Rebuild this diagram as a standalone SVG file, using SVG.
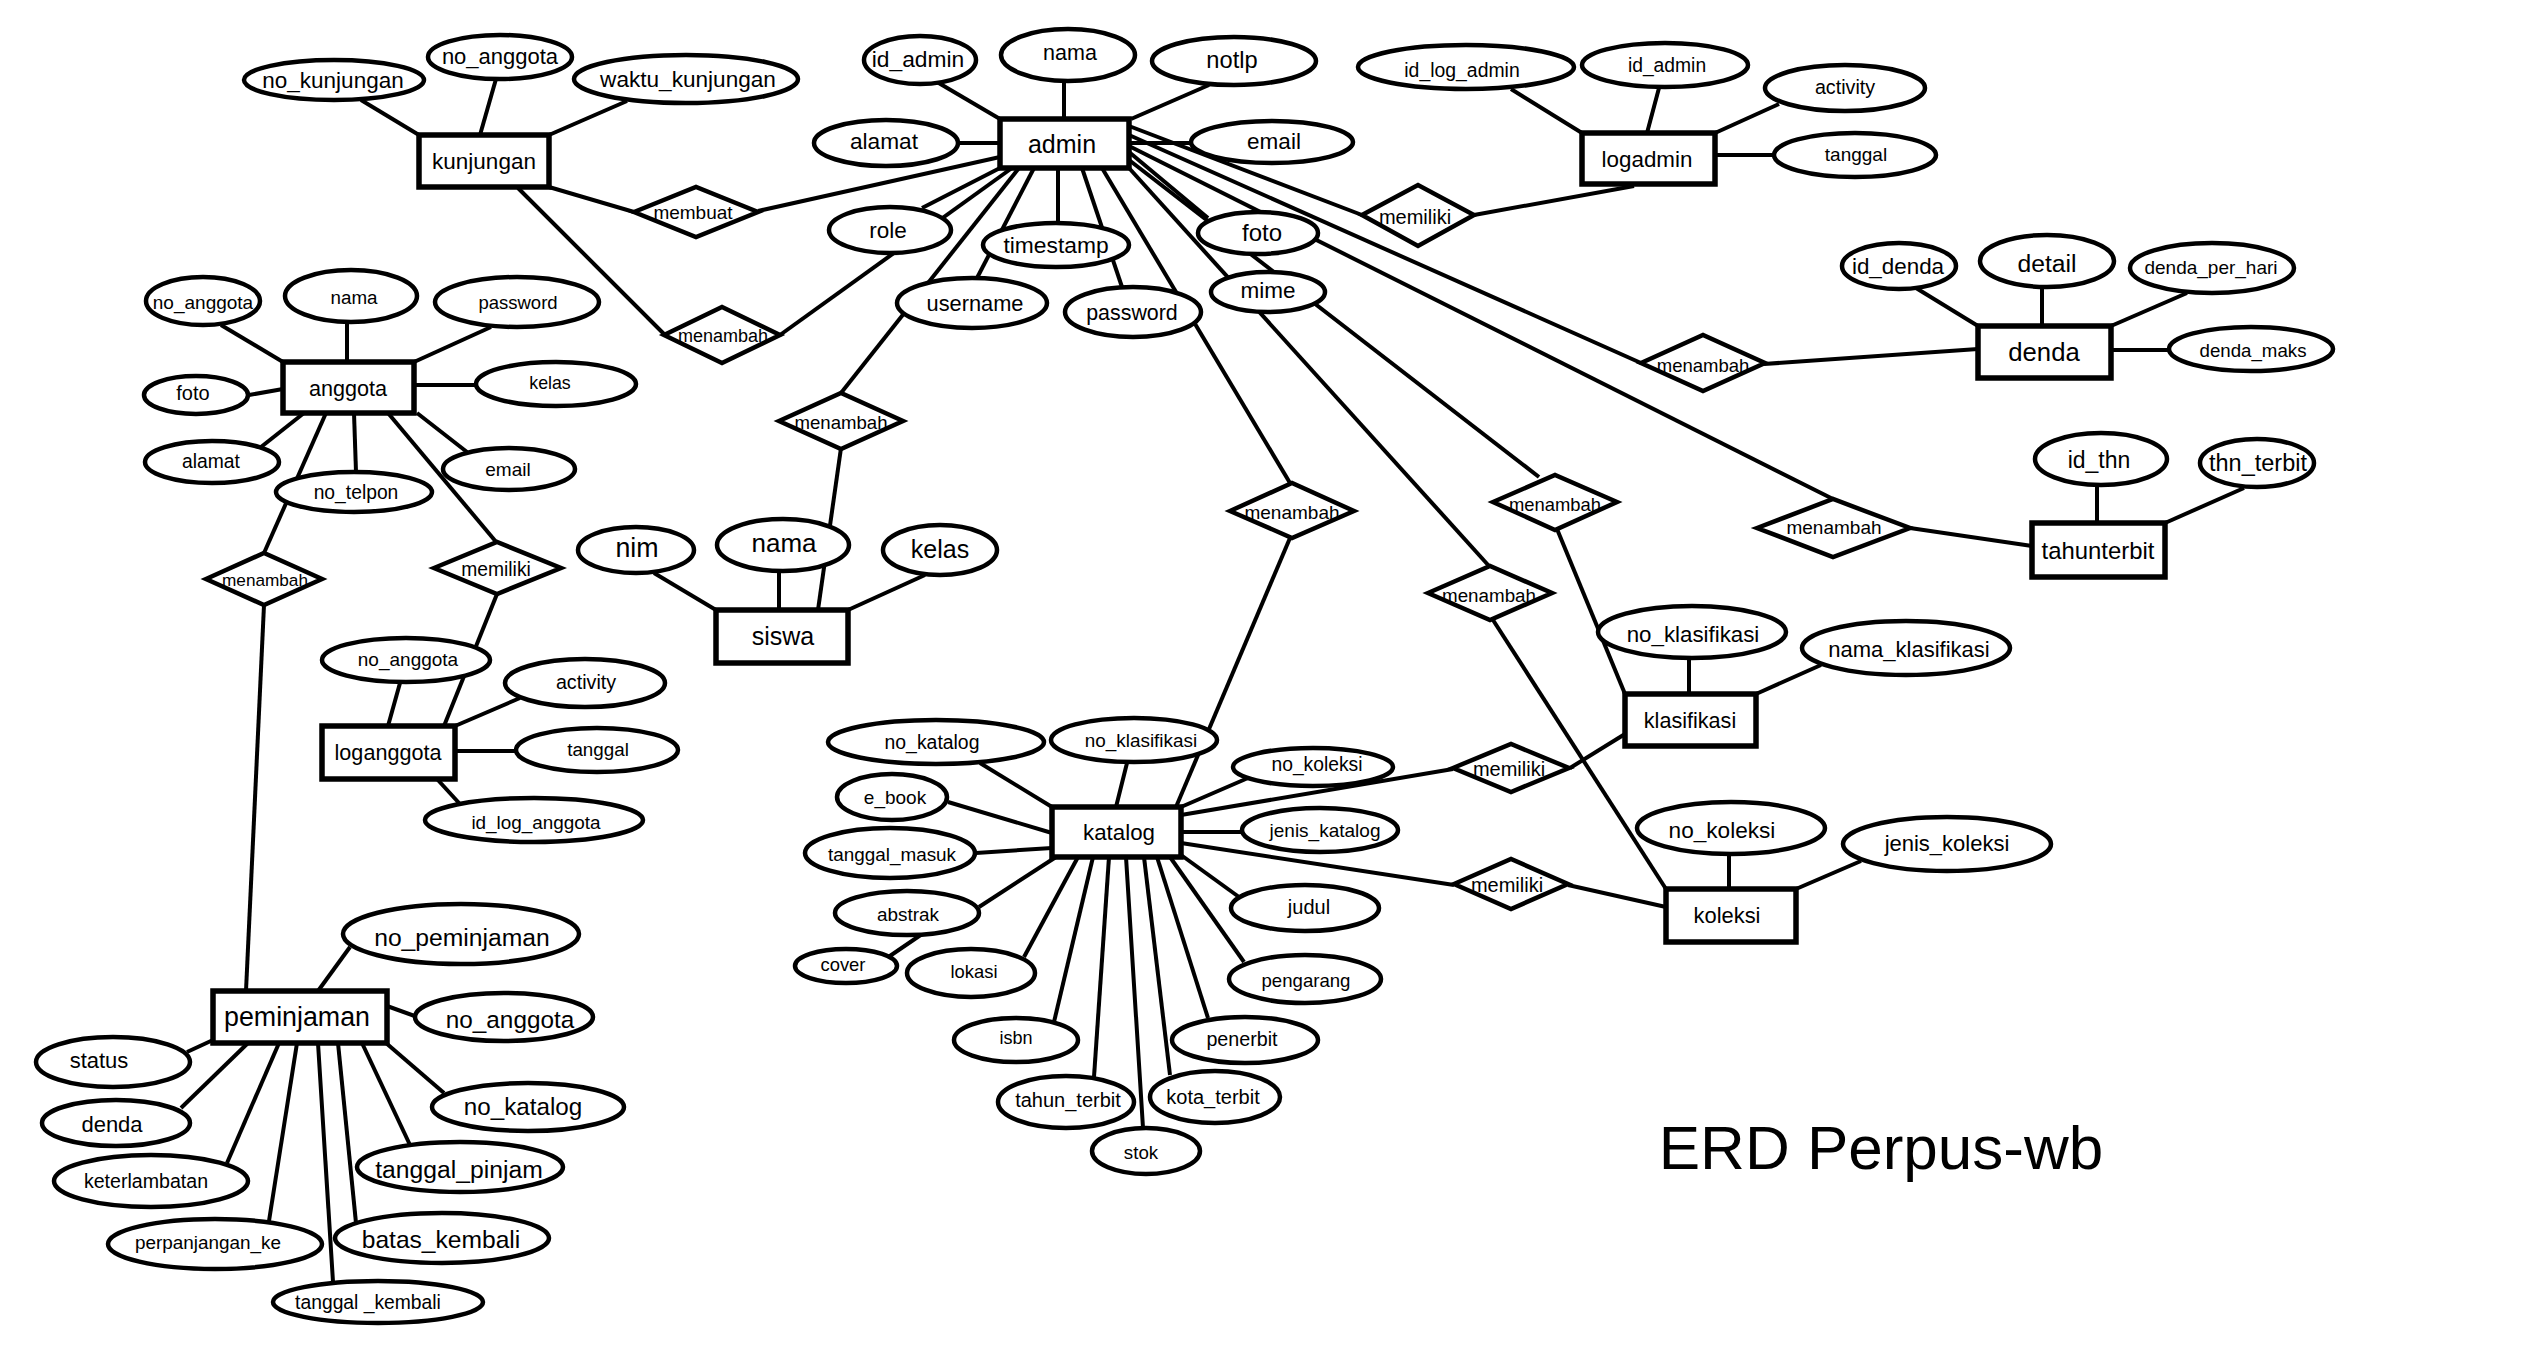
<svg xmlns="http://www.w3.org/2000/svg" width="2540" height="1356" viewBox="0 0 2540 1356">
<style>
.bg{fill:#fff}
.e{fill:#fff;stroke:#000;stroke-width:5.5}
.a{fill:#fff;stroke:#000;stroke-width:4.5}
.r{fill:#fff;stroke:#000;stroke-width:4.5;stroke-linejoin:miter}
#connectors line{stroke:#000;stroke-width:4;stroke-linecap:butt}
text{font-family:"Liberation Sans",Arial,sans-serif;fill:#000;text-anchor:middle;dominant-baseline:central}
</style>
<rect class="bg" x="0" y="0" width="2540" height="1356"/>
<g id="connectors">
<line x1="361" y1="100" x2="419" y2="135"/>
<line x1="496" y1="79" x2="480" y2="135"/>
<line x1="627" y1="101" x2="549" y2="135"/>
<line x1="549" y1="187" x2="634" y2="212"/>
<line x1="518" y1="188" x2="665" y2="335"/>
<line x1="758" y1="211" x2="1000" y2="157"/>
<line x1="780" y1="335" x2="1012" y2="168"/>
<line x1="937" y1="82" x2="1000" y2="119"/>
<line x1="1064" y1="80" x2="1064" y2="119"/>
<line x1="1209" y1="85" x2="1131" y2="119"/>
<line x1="957" y1="143" x2="1000" y2="143"/>
<line x1="1129" y1="143" x2="1191" y2="143"/>
<line x1="1000" y1="168" x2="922" y2="208"/>
<line x1="1019" y1="168" x2="841" y2="393"/>
<line x1="1034" y1="168" x2="977" y2="278"/>
<line x1="1058" y1="168" x2="1058" y2="223"/>
<line x1="1082" y1="168" x2="1122" y2="287"/>
<line x1="1102" y1="168" x2="1290" y2="483"/>
<line x1="1129" y1="152" x2="1208" y2="218"/>
<line x1="1129" y1="160" x2="1539" y2="477"/>
<line x1="1129" y1="168" x2="1489" y2="566"/>
<line x1="1129" y1="146" x2="1833" y2="499"/>
<line x1="1129" y1="135" x2="1641" y2="363"/>
<line x1="1129" y1="126" x2="1362" y2="215"/>
<line x1="1474" y1="215" x2="1634" y2="186"/>
<line x1="1511" y1="89" x2="1582" y2="133"/>
<line x1="1659" y1="88" x2="1647" y2="133"/>
<line x1="1779" y1="104" x2="1715" y2="133"/>
<line x1="1715" y1="155" x2="1774" y2="155"/>
<line x1="1764" y1="364" x2="1978" y2="349"/>
<line x1="1916" y1="288" x2="1978" y2="326"/>
<line x1="2042" y1="287" x2="2042" y2="326"/>
<line x1="2187" y1="293" x2="2111" y2="326"/>
<line x1="2111" y1="350" x2="2170" y2="350"/>
<line x1="1910" y1="528" x2="2032" y2="546"/>
<line x1="2097" y1="485" x2="2097" y2="523"/>
<line x1="2244" y1="488" x2="2165" y2="523"/>
<line x1="221" y1="325" x2="283" y2="362"/>
<line x1="347" y1="322" x2="347" y2="362"/>
<line x1="491" y1="327" x2="414" y2="362"/>
<line x1="249" y1="395" x2="283" y2="389"/>
<line x1="414" y1="385" x2="476" y2="385"/>
<line x1="304" y1="413" x2="261" y2="447"/>
<line x1="326" y1="413" x2="264" y2="553"/>
<line x1="354" y1="413" x2="356" y2="472"/>
<line x1="388" y1="413" x2="497" y2="543"/>
<line x1="417" y1="413" x2="467" y2="452"/>
<line x1="264" y1="605" x2="246" y2="991"/>
<line x1="497" y1="594" x2="444" y2="726"/>
<line x1="400" y1="683" x2="388" y2="726"/>
<line x1="520" y1="698" x2="455" y2="726"/>
<line x1="455" y1="751" x2="516" y2="751"/>
<line x1="437" y1="779" x2="459" y2="803"/>
<line x1="841" y1="448" x2="818" y2="610"/>
<line x1="654" y1="573" x2="716" y2="610"/>
<line x1="779" y1="572" x2="779" y2="610"/>
<line x1="925" y1="575" x2="848" y2="610"/>
<line x1="1290" y1="538" x2="1176" y2="807"/>
<line x1="980" y1="763" x2="1052" y2="807"/>
<line x1="1127" y1="763" x2="1116" y2="807"/>
<line x1="1248" y1="778" x2="1181" y2="807"/>
<line x1="948" y1="802" x2="1052" y2="833"/>
<line x1="976" y1="853" x2="1052" y2="848"/>
<line x1="1181" y1="832" x2="1243" y2="832"/>
<line x1="1181" y1="815" x2="1453" y2="769"/>
<line x1="1181" y1="843" x2="1454" y2="885"/>
<line x1="979" y1="907" x2="1056" y2="857"/>
<line x1="928" y1="930" x2="884" y2="960"/>
<line x1="1024" y1="957" x2="1078" y2="857"/>
<line x1="1093" y1="857" x2="1054" y2="1022"/>
<line x1="1109" y1="857" x2="1094" y2="1077"/>
<line x1="1126" y1="857" x2="1143" y2="1128"/>
<line x1="1144" y1="857" x2="1170" y2="1075"/>
<line x1="1157" y1="857" x2="1208" y2="1018"/>
<line x1="1170" y1="857" x2="1244" y2="962"/>
<line x1="1181" y1="855" x2="1239" y2="897"/>
<line x1="318" y1="991" x2="350" y2="947"/>
<line x1="387" y1="1006" x2="420" y2="1018"/>
<line x1="386" y1="1043" x2="444" y2="1093"/>
<line x1="362" y1="1043" x2="410" y2="1145"/>
<line x1="338" y1="1043" x2="356" y2="1223"/>
<line x1="318" y1="1043" x2="333" y2="1282"/>
<line x1="297" y1="1043" x2="269" y2="1221"/>
<line x1="279" y1="1043" x2="227" y2="1163"/>
<line x1="248" y1="1043" x2="181" y2="1108"/>
<line x1="213" y1="1040" x2="187" y2="1052"/>
<line x1="1570" y1="768" x2="1625" y2="734"/>
<line x1="1557" y1="529" x2="1625" y2="694"/>
<line x1="1689" y1="658" x2="1689" y2="694"/>
<line x1="1821" y1="665" x2="1756" y2="694"/>
<line x1="1568" y1="885" x2="1666" y2="907"/>
<line x1="1493" y1="620" x2="1666" y2="889"/>
<line x1="1729" y1="855" x2="1729" y2="889"/>
<line x1="1861" y1="861" x2="1796" y2="889"/>
</g>

<!-- entities -->
<g id="kunjungan"><rect class="e" x="419" y="135" width="130" height="52"/><text x="484" y="161" font-size="22.5">kunjungan</text></g>
<g id="admin"><rect class="e" x="1000" y="119" width="129" height="49"/><text x="1062" y="144" font-size="25">admin</text></g>
<g id="logadmin"><rect class="e" x="1582" y="133" width="133" height="51"/><text x="1647" y="159" font-size="22.4">logadmin</text></g>
<g id="anggota"><rect class="e" x="283" y="362" width="131" height="51"/><text x="348" y="388" font-size="21.6">anggota</text></g>
<g id="denda"><rect class="e" x="1978" y="326" width="133" height="52"/><text x="2044" y="352" font-size="25.7">denda</text></g>
<g id="tahunterbit"><rect class="e" x="2032" y="523" width="133" height="54"/><text x="2098" y="550" font-size="23.9">tahunterbit</text></g>
<g id="siswa"><rect class="e" x="716" y="610" width="132" height="53"/><text x="783" y="636" font-size="25">siswa</text></g>
<g id="loganggota"><rect class="e" x="322" y="726" width="133" height="53"/><text x="388" y="752" font-size="21.6">loganggota</text></g>
<g id="klasifikasi"><rect class="e" x="1625" y="694" width="131" height="52"/><text x="1690" y="720" font-size="21.6">klasifikasi</text></g>
<g id="katalog"><rect class="e" x="1052" y="807" width="129" height="50"/><text x="1119" y="832" font-size="22.3">katalog</text></g>
<g id="koleksi"><rect class="e" x="1666" y="889" width="130" height="53"/><text x="1727" y="915" font-size="21.9">koleksi</text></g>
<g id="peminjaman"><rect class="e" x="213" y="991" width="174" height="52"/><text x="297" y="1017" font-size="26.8">peminjaman</text></g>

<!-- relationships -->
<g id="rel-membuat"><polygon class="r" points="634,212 696,187 758,212 696,237"/><text x="693" y="212" font-size="19">membuat</text></g>
<g id="rel-menambah-kunjungan"><polygon class="r" points="664,335 722,307 780,335 722,363"/><text x="723" y="336" font-size="18">menambah</text></g>
<g id="rel-menambah-siswa"><polygon class="r" points="779,421 841,393 903,421 841,449"/><text x="841" y="422" font-size="18.6">menambah</text></g>
<g id="rel-memiliki-logadmin"><polygon class="r" points="1362,215 1418,185 1474,215 1418,246"/><text x="1415" y="217" font-size="20">memiliki</text></g>
<g id="rel-menambah-denda"><polygon class="r" points="1641,363 1703,335 1765,363 1703,391"/><text x="1703" y="365" font-size="18.5">menambah</text></g>
<g id="rel-menambah-tahunterbit"><polygon class="r" points="1757,528 1833,499 1910,528 1833,557"/><text x="1834" y="527" font-size="19">menambah</text></g>
<g id="rel-menambah-klasifikasi"><polygon class="r" points="1493,502 1555,475 1617,502 1555,530"/><text x="1555" y="504" font-size="18.4">menambah</text></g>
<g id="rel-menambah-koleksi"><polygon class="r" points="1428,593 1490,566 1552,593 1490,620"/><text x="1489" y="595" font-size="18.8">menambah</text></g>
<g id="rel-menambah-katalog"><polygon class="r" points="1230,511 1292,483 1354,511 1292,538"/><text x="1292" y="512" font-size="19">menambah</text></g>
<g id="rel-memiliki-klasifikasi"><polygon class="r" points="1453,768 1511,744 1569,768 1511,792"/><text x="1509" y="769" font-size="20">memiliki</text></g>
<g id="rel-memiliki-koleksi"><polygon class="r" points="1454,884 1511,859 1568,884 1511,909"/><text x="1507" y="885" font-size="20">memiliki</text></g>
<g id="rel-menambah-peminjaman"><polygon class="r" points="206,579 264,553 322,579 264,605"/><text x="265" y="580" font-size="17.2">menambah</text></g>
<g id="rel-memiliki-loganggota"><polygon class="r" points="434,568 497,542 561,568 497,594"/><text x="496" y="569" font-size="19.3">memiliki</text></g>

<!-- attributes: kunjungan -->
<g id="kunjungan-no_kunjungan"><ellipse class="a" cx="334" cy="80" rx="90" ry="20"/><text x="333" y="80" font-size="22.5">no_kunjungan</text></g>
<g id="kunjungan-no_anggota"><ellipse class="a" cx="500" cy="57" rx="72" ry="22"/><text x="500" y="56" font-size="22">no_anggota</text></g>
<g id="kunjungan-waktu_kunjungan"><ellipse class="a" cx="686" cy="79" rx="112" ry="24"/><text x="688" y="79" font-size="22.6">waktu_kunjungan</text></g>
<!-- admin -->
<g id="admin-id_admin"><ellipse class="a" cx="920" cy="60" rx="56" ry="24"/><text x="918" y="59" font-size="22.8">id_admin</text></g>
<g id="admin-nama"><ellipse class="a" cx="1068" cy="55" rx="67" ry="26"/><text x="1070" y="53" font-size="21.5">nama</text></g>
<g id="admin-notlp"><ellipse class="a" cx="1234" cy="61" rx="82" ry="24"/><text x="1232" y="60" font-size="23.7">notlp</text></g>
<g id="admin-alamat"><ellipse class="a" cx="886" cy="143" rx="72" ry="23"/><text x="884" y="141" font-size="22.7">alamat</text></g>
<g id="admin-email"><ellipse class="a" cx="1272" cy="142" rx="81" ry="21"/><text x="1274" y="141" font-size="22.5">email</text></g>
<g id="admin-role"><ellipse class="a" cx="890" cy="230" rx="61" ry="23"/><text x="888" y="230" font-size="22.5">role</text></g>
<g id="admin-timestamp"><ellipse class="a" cx="1056" cy="245" rx="73" ry="22"/><text x="1056" y="245" font-size="22.8">timestamp</text></g>
<g id="admin-username"><ellipse class="a" cx="972" cy="303" rx="75" ry="25"/><text x="975" y="303" font-size="21.8">username</text></g>
<g id="admin-password"><ellipse class="a" cx="1133" cy="312" rx="68" ry="25"/><text x="1132" y="313" font-size="21.4">password</text></g>
<g id="admin-foto"><ellipse class="a" cx="1258" cy="233" rx="60" ry="21"/><text x="1262" y="232" font-size="24">foto</text></g>
<g id="admin-mime"><ellipse class="a" cx="1268" cy="292" rx="57" ry="20"/><text x="1268" y="290" font-size="22.5">mime</text></g>
<!-- logadmin -->
<g id="logadmin-id_log_admin"><ellipse class="a" cx="1466" cy="67" rx="108" ry="22"/><text x="1462" y="70" font-size="19.4">id_log_admin</text></g>
<g id="logadmin-id_admin"><ellipse class="a" cx="1665" cy="65" rx="83" ry="22"/><text x="1667" y="65" font-size="19.3">id_admin</text></g>
<g id="logadmin-activity"><ellipse class="a" cx="1845" cy="88" rx="80" ry="23"/><text x="1845" y="87" font-size="19.7">activity</text></g>
<g id="logadmin-tanggal"><ellipse class="a" cx="1855" cy="155" rx="81" ry="22"/><text x="1856" y="154" font-size="19">tanggal</text></g>
<!-- denda -->
<g id="denda-id_denda"><ellipse class="a" cx="1899" cy="266" rx="57" ry="23"/><text x="1898" y="266" font-size="22.4">id_denda</text></g>
<g id="denda-detail"><ellipse class="a" cx="2047" cy="261" rx="67" ry="26"/><text x="2047" y="263" font-size="24.7">detail</text></g>
<g id="denda-denda_per_hari"><ellipse class="a" cx="2212" cy="268" rx="82" ry="25"/><text x="2211" y="267" font-size="19">denda_per_hari</text></g>
<g id="denda-denda_maks"><ellipse class="a" cx="2251" cy="349" rx="82" ry="22"/><text x="2253" y="350" font-size="18.7">denda_maks</text></g>
<!-- tahunterbit -->
<g id="tahunterbit-id_thn"><ellipse class="a" cx="2101" cy="459" rx="66" ry="26"/><text x="2099" y="460" font-size="23">id_thn</text></g>
<g id="tahunterbit-thn_terbit"><ellipse class="a" cx="2257" cy="463" rx="57" ry="24"/><text x="2258" y="463" font-size="23.5">thn_terbit</text></g>
<!-- anggota -->
<g id="anggota-no_anggota"><ellipse class="a" cx="203" cy="301" rx="57" ry="24"/><text x="203" y="302" font-size="19">no_anggota</text></g>
<g id="anggota-nama"><ellipse class="a" cx="351" cy="296" rx="66" ry="26"/><text x="354" y="297" font-size="18.8">nama</text></g>
<g id="anggota-password"><ellipse class="a" cx="517" cy="302" rx="82" ry="25"/><text x="518" y="302" font-size="18.5">password</text></g>
<g id="anggota-foto"><ellipse class="a" cx="196" cy="395" rx="52" ry="19"/><text x="193" y="393" font-size="20">foto</text></g>
<g id="anggota-kelas"><ellipse class="a" cx="556" cy="384" rx="80" ry="22"/><text x="550" y="383" font-size="17.8">kelas</text></g>
<g id="anggota-alamat"><ellipse class="a" cx="212" cy="462" rx="67" ry="21"/><text x="211" y="461" font-size="19.3">alamat</text></g>
<g id="anggota-no_telpon"><ellipse class="a" cx="354" cy="492" rx="78" ry="20"/><text x="356" y="492" font-size="19.3">no_telpon</text></g>
<g id="anggota-email"><ellipse class="a" cx="509" cy="469" rx="66" ry="21"/><text x="508" y="469" font-size="19">email</text></g>
<!-- loganggota -->
<g id="loganggota-no_anggota"><ellipse class="a" cx="406" cy="660" rx="84" ry="22"/><text x="408" y="659" font-size="19">no_anggota</text></g>
<g id="loganggota-activity"><ellipse class="a" cx="585" cy="683" rx="80" ry="24"/><text x="586" y="682" font-size="19.7">activity</text></g>
<g id="loganggota-tanggal"><ellipse class="a" cx="597" cy="750" rx="81" ry="22"/><text x="598" y="749" font-size="18.8">tanggal</text></g>
<g id="loganggota-id_log_anggota"><ellipse class="a" cx="534" cy="820" rx="109" ry="22"/><text x="536" y="822" font-size="18.9">id_log_anggota</text></g>
<!-- siswa -->
<g id="siswa-nim"><ellipse class="a" cx="636" cy="550" rx="58" ry="23"/><text x="637" y="548" font-size="26.8">nim</text></g>
<g id="siswa-nama"><ellipse class="a" cx="783" cy="545" rx="66" ry="26"/><text x="784" y="543" font-size="26">nama</text></g>
<g id="siswa-kelas"><ellipse class="a" cx="940" cy="550" rx="57" ry="25"/><text x="940" y="549" font-size="25">kelas</text></g>
<!-- katalog -->
<g id="katalog-no_katalog"><ellipse class="a" cx="936" cy="742" rx="108" ry="22"/><text x="932" y="742" font-size="19.4">no_katalog</text></g>
<g id="katalog-no_klasifikasi"><ellipse class="a" cx="1134" cy="740" rx="83" ry="22"/><text x="1141" y="740" font-size="18.9">no_klasifikasi</text></g>
<g id="katalog-no_koleksi"><ellipse class="a" cx="1313" cy="767" rx="80" ry="19"/><text x="1317" y="764" font-size="19.3">no_koleksi</text></g>
<g id="katalog-e_book"><ellipse class="a" cx="892" cy="797" rx="55" ry="23"/><text x="895" y="797" font-size="19">e_book</text></g>
<g id="katalog-tanggal_masuk"><ellipse class="a" cx="890" cy="853" rx="85" ry="25"/><text x="892" y="854" font-size="18.9">tanggal_masuk</text></g>
<g id="katalog-jenis_katalog"><ellipse class="a" cx="1320" cy="830" rx="78" ry="22"/><text x="1325" y="830" font-size="19">jenis_katalog</text></g>
<g id="katalog-abstrak"><ellipse class="a" cx="907" cy="913" rx="72" ry="22"/><text x="908" y="914" font-size="18.9">abstrak</text></g>
<g id="katalog-cover"><ellipse class="a" cx="846" cy="966" rx="51" ry="17"/><text x="843" y="964" font-size="18.4">cover</text></g>
<g id="katalog-lokasi"><ellipse class="a" cx="971" cy="973" rx="64" ry="24"/><text x="974" y="971" font-size="18.4">lokasi</text></g>
<g id="katalog-judul"><ellipse class="a" cx="1305" cy="908" rx="74" ry="23"/><text x="1309" y="907" font-size="20">judul</text></g>
<g id="katalog-pengarang"><ellipse class="a" cx="1305" cy="979" rx="76" ry="24"/><text x="1306" y="980" font-size="18.6">pengarang</text></g>
<g id="katalog-isbn"><ellipse class="a" cx="1016" cy="1040" rx="62" ry="22"/><text x="1016" y="1038" font-size="18">isbn</text></g>
<g id="katalog-tahun_terbit"><ellipse class="a" cx="1066" cy="1102" rx="68" ry="26"/><text x="1068" y="1100" font-size="20">tahun_terbit</text></g>
<g id="katalog-stok"><ellipse class="a" cx="1146" cy="1151" rx="54" ry="23"/><text x="1141" y="1152" font-size="18.7">stok</text></g>
<g id="katalog-kota_terbit"><ellipse class="a" cx="1215" cy="1097" rx="65" ry="26"/><text x="1213" y="1097" font-size="20">kota_terbit</text></g>
<g id="katalog-penerbit"><ellipse class="a" cx="1245" cy="1040" rx="73" ry="23"/><text x="1242" y="1039" font-size="19.7">penerbit</text></g>
<!-- klasifikasi / koleksi -->
<g id="klasifikasi-no_klasifikasi"><ellipse class="a" cx="1692" cy="632" rx="94" ry="26"/><text x="1693" y="634" font-size="22.3">no_klasifikasi</text></g>
<g id="klasifikasi-nama_klasifikasi"><ellipse class="a" cx="1906" cy="648" rx="104" ry="27"/><text x="1909" y="649" font-size="22">nama_klasifikasi</text></g>
<g id="koleksi-no_koleksi"><ellipse class="a" cx="1731" cy="828" rx="94" ry="26"/><text x="1722" y="830" font-size="22.6">no_koleksi</text></g>
<g id="koleksi-jenis_koleksi"><ellipse class="a" cx="1947" cy="844" rx="104" ry="27"/><text x="1947" y="843" font-size="22">jenis_koleksi</text></g>
<!-- peminjaman -->
<g id="peminjaman-no_peminjaman"><ellipse class="a" cx="461" cy="934" rx="118" ry="30"/><text x="462" y="937" font-size="24.7">no_peminjaman</text></g>
<g id="peminjaman-no_anggota"><ellipse class="a" cx="504" cy="1017" rx="89" ry="24"/><text x="510" y="1019" font-size="24.3">no_anggota</text></g>
<g id="peminjaman-no_katalog"><ellipse class="a" cx="528" cy="1107" rx="96" ry="24"/><text x="523" y="1106" font-size="24.2">no_katalog</text></g>
<g id="peminjaman-tanggal_pinjam"><ellipse class="a" cx="460" cy="1167" rx="103" ry="25"/><text x="459" y="1169" font-size="24.7">tanggal_pinjam</text></g>
<g id="peminjaman-batas_kembali"><ellipse class="a" cx="442" cy="1238" rx="107" ry="25"/><text x="441" y="1239" font-size="24.6">batas_kembali</text></g>
<g id="peminjaman-tanggal_kembali"><ellipse class="a" cx="378" cy="1302" rx="105" ry="21"/><text x="368" y="1302" font-size="19.3">tanggal _kembali</text></g>
<g id="peminjaman-perpanjangan_ke"><ellipse class="a" cx="215" cy="1244" rx="107" ry="25"/><text x="208" y="1242" font-size="18.9">perpanjangan_ke</text></g>
<g id="peminjaman-keterlambatan"><ellipse class="a" cx="151" cy="1181" rx="97" ry="26"/><text x="146" y="1181" font-size="19.6">keterlambatan</text></g>
<g id="peminjaman-denda"><ellipse class="a" cx="116" cy="1123" rx="74" ry="23"/><text x="112" y="1124" font-size="22">denda</text></g>
<g id="peminjaman-status"><ellipse class="a" cx="113" cy="1062" rx="77" ry="25"/><text x="99" y="1060" font-size="22">status</text></g>

<g id="title"><text x="1881" y="1147" font-size="62">ERD Perpus-wb</text></g>
</svg>
